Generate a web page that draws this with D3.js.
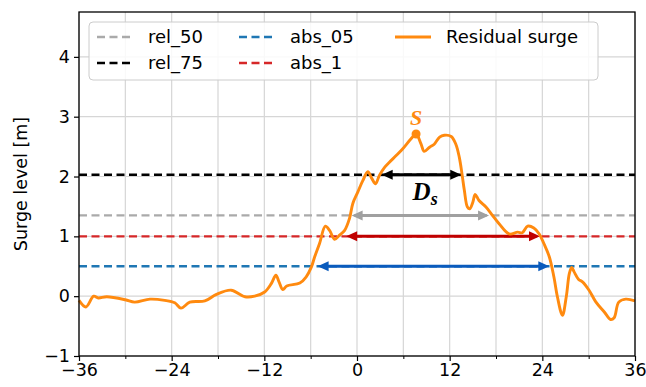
<!DOCTYPE html>
<html><head><meta charset="utf-8">
<script src="https://cdn.jsdelivr.net/npm/d3@7"></script>
<style>
html,body{margin:0;padding:0;background:#fff;}
svg{display:block;font-family:"DejaVu Sans",sans-serif;}
</style></head>
<body><svg id="c" width="646" height="387"></svg>
<script>
// ---- data ----
const hours = [-36,-35.1,-34.1,-33.5,-32.4,-30,-28.8,-26.8,-24.9,-23.6,-22.8,-21.65,-19.7,-18.2,-16.3,-14.5,-13.25,-11.96,-11.1,-10.5,-10.1,-9.6,-9.1,-7.4,-6.6,-5.9,-5.5,-4.85,-4.1,-3.55,-2.9,-2.26,-1.6,-0.97,-0.54,0.1,0.75,1.4,1.95,2.4,2.9,3.55,4.2,5.07,5.9,7.0,7.65,8.3,8.7,9.4,10.0,10.7,11.3,12.2,12.8,13.25,13.6,13.9,14.3,14.6,15.0,15.3,15.8,16.7,17.55,18.4,19.7,20.8,21.4,22.1,22.9,23.6,24.2,24.9,25.5,25.95,26.6,27.1,27.5,27.8,28.1,28.7,29.2,30.05,30.9,32.0,32.85,33.3,33.9,34.8,36];
const surge = [-0.07,-0.18,0.0,-0.03,-0.01,-0.06,-0.1,-0.05,-0.07,-0.11,-0.2,-0.1,-0.08,0.03,0.1,-0.01,0.0,0.07,0.21,0.35,0.24,0.11,0.17,0.22,0.32,0.49,0.65,0.88,1.17,1.1,0.95,1.02,1.1,1.3,1.55,1.74,1.93,2.08,1.96,1.88,2.02,2.15,2.24,2.35,2.46,2.63,2.71,2.54,2.42,2.49,2.54,2.66,2.69,2.67,2.54,2.32,2.04,1.77,1.49,1.46,1.57,1.7,1.6,1.49,1.35,1.21,1.04,1.07,1.06,1.17,1.14,1.04,0.88,0.66,0.32,-0.01,-0.32,-0.01,0.38,0.48,0.41,0.28,0.24,0.1,-0.09,-0.26,-0.39,-0.36,-0.1,-0.05,-0.08];
const peakHour = 7.65, peakSurge = 2.71;

const thrNames  = ["rel_50","rel_75","abs_05","abs_1"];
const thrValues = [1.35, 2.03, 0.5, 1.0];
const thrColors = ["#aaaaaa","#000000","#1f77b4","#d62728"];
const arrowColors = ["#a0a0a0","#000000","#0a5bbd","#c00000"];
const arrowStart = [-0.7, 3.2, -5.1, -1.4];
const arrowEnd   = [17.1, 13.5, 24.9, 23.7];

const xTicks = [-36,-24,-12,0,12,24,36];
const xMinor = [-30,-18,-6,6,18,30];
const yTicks = [-1,0,1,2,3,4];

// ---- layout ----
const svg = d3.select("#c");
const L=79, R=635, T=12, B=356;
const FS = 17.5;
const x = d3.scaleLinear().domain([-36,36]).range([L,R]);
const y = d3.scaleLinear().domain([-1,4.75]).range([B,T]);
const fmt = d => d<0 ? "\u2212"+Math.abs(d) : String(d);

// grid
const g = svg.append("g");
g.selectAll(".vg").data(xTicks.concat(xMinor)).join("line")
  .attr("x1",d=>x(d)).attr("x2",d=>x(d)).attr("y1",T).attr("y2",B)
  .attr("stroke","#d6d6d6").attr("stroke-width",1.2);
g.selectAll(".hg").data(yTicks).join("line")
  .attr("x1",L).attr("x2",R).attr("y1",d=>y(d)).attr("y2",d=>y(d))
  .attr("stroke","#d6d6d6").attr("stroke-width",1.2);

// threshold dashed lines
thrValues.forEach((v,i)=>{
  svg.append("line").attr("x1",L).attr("x2",R).attr("y1",y(v)).attr("y2",y(v))
    .attr("stroke",thrColors[i]).attr("stroke-width",2.3).attr("stroke-dasharray","8,4.5");
});

// arrows
function arrow(x0,x1,yy,col){
  const a = svg.append("g");
  const hl=11, hw=5;
  a.append("line").attr("x1",x0+hl-1).attr("x2",x1-hl+1).attr("y1",yy).attr("y2",yy)
    .attr("stroke",col).attr("stroke-width",3);
  a.append("path").attr("d",`M${x0},${yy}L${x0+hl},${yy-hw}L${x0+hl},${yy+hw}Z`).attr("fill",col);
  a.append("path").attr("d",`M${x1},${yy}L${x1-hl},${yy-hw}L${x1-hl},${yy+hw}Z`).attr("fill",col);
}
thrValues.forEach((v,i)=>arrow(x(arrowStart[i]),x(arrowEnd[i]),y(v),arrowColors[i]));

// curve
const line = d3.line().x((d,i)=>x(hours[i])).y(d=>y(d)).curve(d3.curveCatmullRom.alpha(0.5));
svg.append("path").datum(surge).attr("d",line).attr("fill","none")
  .attr("stroke","#ff8a0f").attr("stroke-width",2.9).attr("stroke-linejoin","round");

// peak
svg.append("circle").attr("cx",x(peakHour)).attr("cy",y(peakSurge)).attr("r",4.5).attr("fill","#ff8a0f");
svg.append("text").attr("x",x(peakHour)).attr("y",y(peakSurge)-9).attr("text-anchor","middle")
  .attr("font-family","'Liberation Serif',serif").attr("font-style","italic").attr("font-weight","bold")
  .attr("font-size",22).attr("fill","#ff8a0f").text("S");

// D_s label
const ds = svg.append("text").attr("x",x(arrowStart[1]+4.0)).attr("y",y(1.6))
  .attr("font-family","'Liberation Serif',serif").attr("font-style","italic").attr("font-weight","bold")
  .attr("fill","#000");
ds.append("tspan").attr("font-size",25).text("D");
ds.append("tspan").attr("font-size",18).attr("dy",5).text("s");

// axes frame
svg.append("rect").attr("x",L).attr("y",T).attr("width",R-L).attr("height",B-T)
  .attr("fill","none").attr("stroke","#000").attr("stroke-width",1.3);

// ticks
const xa = svg.append("g").attr("transform",`translate(0,${B})`)
  .call(d3.axisBottom(x).tickValues(xTicks).tickFormat(fmt).tickSize(5).tickPadding(3));
svg.append("g").attr("transform",`translate(0,${B})`)
  .call(d3.axisBottom(x).tickValues(xMinor).tickFormat("").tickSize(3))
  .call(s=>s.select(".domain").remove());
const ya = svg.append("g").attr("transform",`translate(${L},0)`)
  .call(d3.axisLeft(y).tickValues(yTicks).tickFormat(fmt).tickSize(5).tickPadding(4));
[xa,ya].forEach(a=>{a.select(".domain").remove();
  a.selectAll("text").attr("font-size",FS).attr("font-family","'DejaVu Sans',sans-serif").attr("fill","#000");
  a.selectAll("line").attr("stroke","#000").attr("stroke-width",1.2);});
svg.selectAll(".tick line").attr("stroke","#000");

// y label
svg.append("text").attr("transform",`translate(27,${(T+B)/2}) rotate(-90)`)
  .attr("text-anchor","middle").attr("font-size",FS).text("Surge level [m]");

// legend
const lg = svg.append("g");
lg.append("rect").attr("x",89).attr("y",22).attr("width",509).attr("height",58).attr("rx",4)
  .attr("fill","#fff").attr("fill-opacity",0.85).attr("stroke","#cccccc").attr("stroke-width",1);
const legItems = [
  {name:thrNames[0], col:thrColors[0], dash:true, cx:97, cy:37},
  {name:thrNames[1], col:thrColors[1], dash:true, cx:97, cy:63},
  {name:thrNames[2], col:thrColors[2], dash:true, cx:239, cy:37},
  {name:thrNames[3], col:thrColors[3], dash:true, cx:239, cy:63},
  {name:"Residual surge", col:"#ff8a0f", dash:false, cx:395, cy:37}
];
legItems.forEach(it=>{
  lg.append("line").attr("x1",it.cx).attr("x2",it.cx+36).attr("y1",it.cy).attr("y2",it.cy)
    .attr("stroke",it.col).attr("stroke-width",it.dash?2.3:2.9).attr("stroke-dasharray",it.dash?"8,4.5":null);
  lg.append("text").attr("x",it.cx+51).attr("y",it.cy).attr("dy","0.35em").attr("font-size",FS+0.5).text(it.name);
});
</script></body></html>
